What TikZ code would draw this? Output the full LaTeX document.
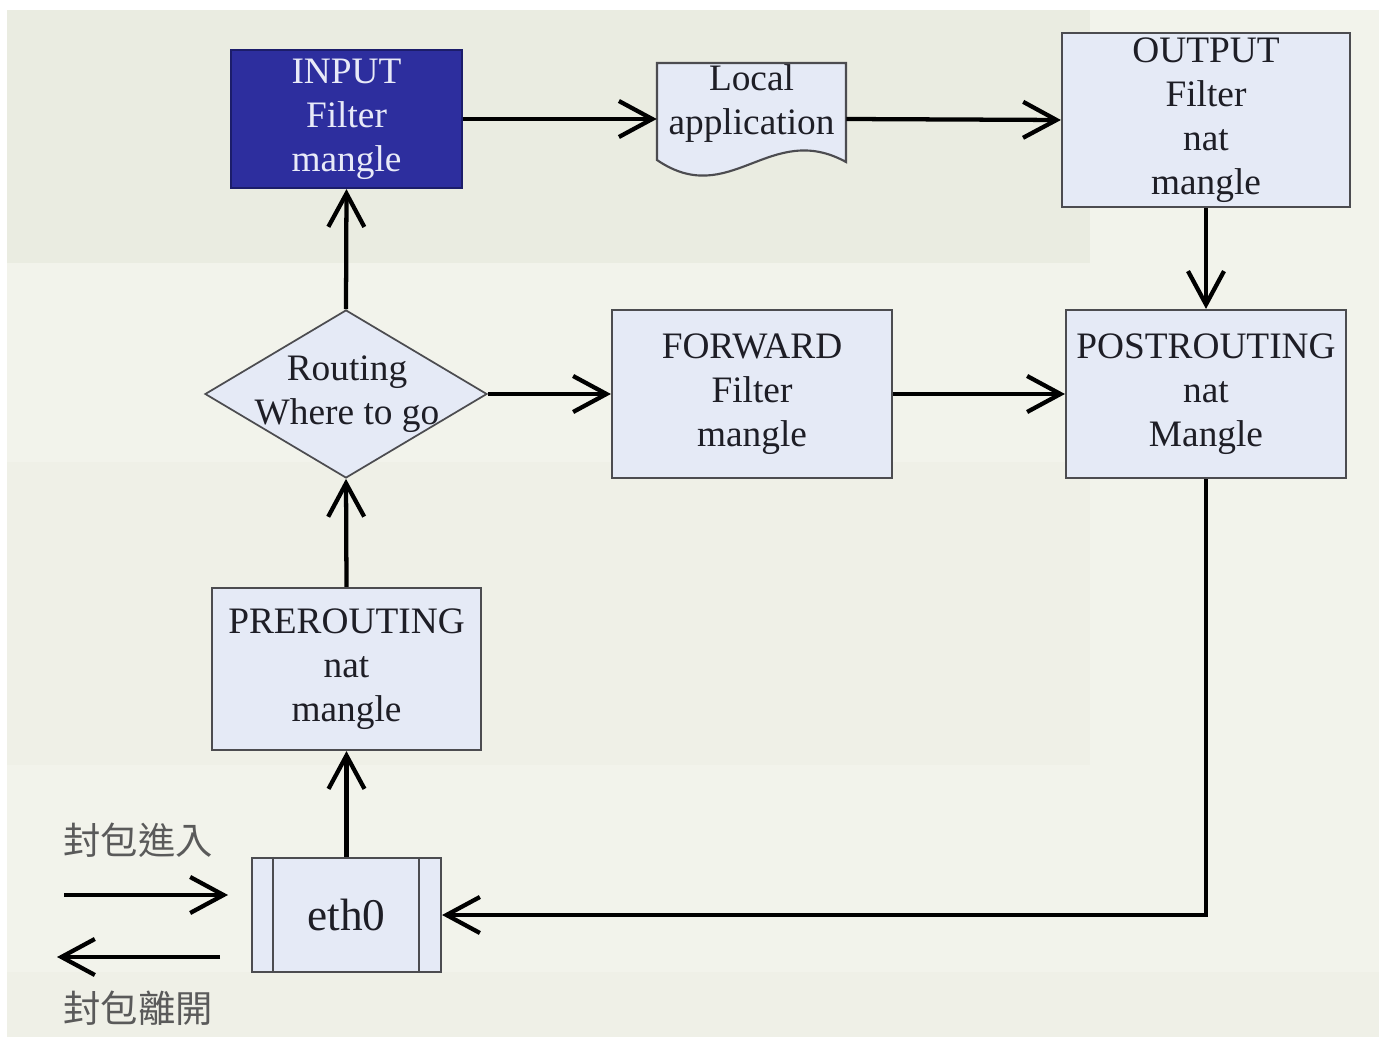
\documentclass[tikz,border=0pt]{standalone}
\usepackage{fontspec}
\setmainfont{Liberation Serif}
\newfontfamily\cjk{Noto Sans CJK TC}
\usetikzlibrary{arrows.meta,shapes.geometric,calc}

\definecolor{bgpale}{HTML}{F2F3EB}
\definecolor{bgband}{HTML}{EAECE1}
\definecolor{bgmid}{HTML}{EFF0E7}
\definecolor{boxfill}{HTML}{E5EAF6}
\definecolor{boxline}{HTML}{4C4C50}
\definecolor{inputfill}{HTML}{2D2E9E}
\definecolor{inputline}{HTML}{1C1D6A}
\definecolor{inputtext}{HTML}{E8EAF8}
\definecolor{bodytext}{HTML}{1E1E26}
\definecolor{cjktext}{HTML}{5A5A5A}

\tikzset{
  chainbox/.style={draw=boxline, line width=1.6pt, fill=boxfill, inner sep=0pt,
    align=center, text=bodytext, font=\fontsize{28}{33}\selectfont},
  inputbox/.style={chainbox, fill=inputfill, draw=inputline, text=inputtext},
  decision/.style={diamond, draw=boxline, line width=1.3pt, fill=boxfill, inner sep=0pt},
  bodylabel/.style={align=center, text=bodytext, inner sep=0pt, font=\fontsize{28}{33}\selectfont},
  cjklabel/.style={text=cjktext, inner sep=0pt, font=\cjk\fontsize{28}{33}\selectfont},
  flow/.style={line width=3.2pt, -{Straight Barb[length=25pt, width=27pt, line width=3.2pt]}},
}

\begin{document}
\begin{tikzpicture}[x=0.75pt, y=-0.75pt]
  % page and background bands
  \useasboundingbox (0,0) rectangle (1379,1037);
  \fill[white] (0,0) rectangle (1379,1037);
  \fill[bgpale] (7,10) rectangle (1379,1037);
  \fill[bgband] (7,10) rectangle (1090,263);
  \fill[bgmid] (7,462) rectangle (1090,765);
  \fill[bgmid] (7,972) rectangle (1379,1037);

  % chains
  \node[inputbox, minimum width=173.25pt, minimum height=103.5pt] (input) at (346.5,119)
    {INPUT\\Filter\\mangle};
  \node[chainbox, minimum width=216pt, minimum height=130.5pt] (output) at (1206,120)
    {OUTPUT\\Filter\\nat\\mangle};
  \node[chainbox, minimum width=210pt, minimum height=126pt] (fwd) at (752,394)
    {FORWARD\\Filter\\mangle};
  \node[chainbox, minimum width=210pt, minimum height=126pt] (post) at (1206,394)
    {POSTROUTING\\nat\\Mangle};
  \node[chainbox, minimum width=201.75pt, minimum height=121.5pt] (pre) at (346.5,669)
    {PREROUTING\\nat\\mangle};

  % routing decision
  \node[decision, minimum width=211.5pt, minimum height=126pt] (route) at (346,394) {};
  \node[bodylabel] (routetxt) at (347,394) {Routing\\Where to go};

  % local application (document shape with a wavy lower edge)
  \node[inner sep=0pt, minimum width=141.75pt, minimum height=84pt] (app) at (751.5,119) {};
  \filldraw[fill=boxfill, draw=boxline, line width=1.6pt, line join=miter]
    (657,63) -- (846,63) -- (846,162)
    .. controls (770,120) and (730,210) .. (657,160) -- cycle;
  \node[bodylabel] (apptxt) at (751.5,104) {Local\\application};

  % network interface
  \node[chainbox, minimum width=141.75pt, minimum height=85.5pt,
        font=\fontsize{34}{40}\selectfont] (eth) at (346.5,915) {eth0};
  \draw[boxline, line width=1.6pt]
    ($(eth.north west)+(22,0)$) -- ($(eth.south west)+(22,0)$)
    ($(eth.north east)+(-23,0)$) -- ($(eth.south east)+(-23,0)$);

  % packet flow
  \draw[flow] (input.east) -- (app.west);
  \draw[flow] (app.east) -- (output.west);
  \draw[flow] (output.south) -- (post.north);
  \draw[flow] (route.east) -- (fwd.west);
  \draw[flow] (fwd.east) -- (post.west);
  \draw[flow] (route.north) -- (input.south);
  \draw[flow] (pre.north) -- (route.south);
  \draw[flow] (eth.north) -- (pre.south);
  \draw[flow] (post.south) |- (eth.east);

  % legend: packets entering and leaving
  \coordinate (inS) at (64,895);
  \coordinate (inE) at (228,895);
  \coordinate (outS) at (220,957);
  \coordinate (outE) at (57,957);
  \draw[flow] (inS) -- (inE);
  \draw[flow] (outS) -- (outE);
  \node[cjklabel] (enter) at (138,840) {封包進入};
  \node[cjklabel] (leave) at (138,1008) {封包離開};
\end{tikzpicture}
\end{document}
